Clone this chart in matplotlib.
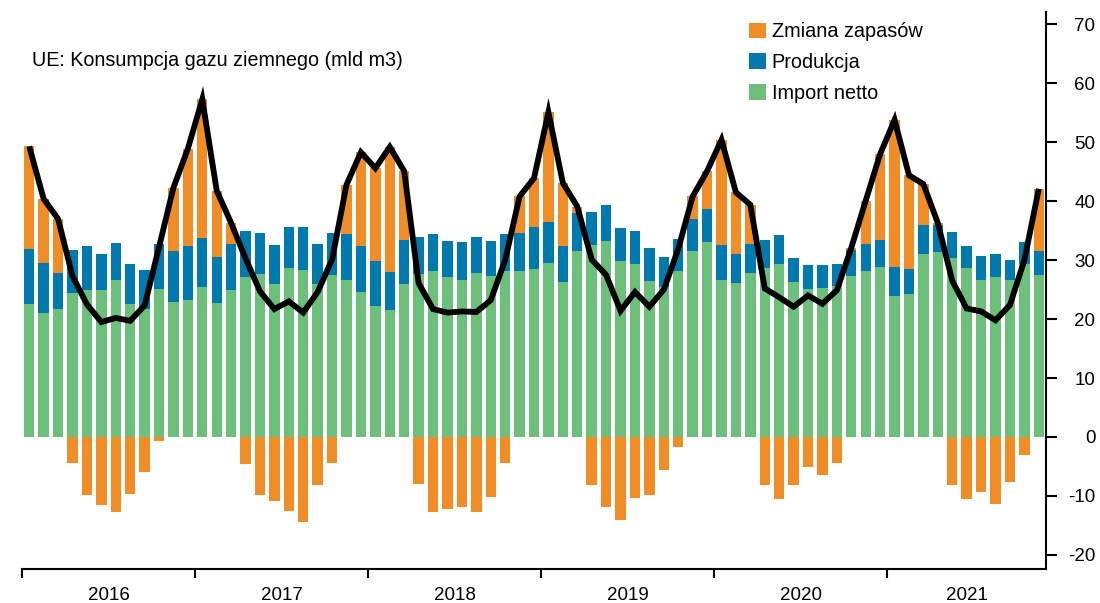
import numpy as np
import matplotlib
matplotlib.use("Agg")
import matplotlib.pyplot as plt
from matplotlib.patches import Patch

plt.rcParams['font.family'] = ['Liberation Sans', 'DejaVu Sans']

# Monthly data, Jan 2016 - Nov 2021 (bcm)
years = ['2016', '2017', '2018', '2019', '2020', '2021']

import_netto = [
    22.5, 21.0, 21.7, 24.4, 24.9, 25.0, 26.6, 22.6, 21.7, 25.1, 22.9, 23.2,
    25.4, 22.8, 24.9, 27.2, 27.7, 26.0, 28.7, 28.4, 26.0, 27.5, 26.7, 24.6,
    22.3, 21.5, 26.0, 27.7, 28.2, 27.2, 26.7, 27.8, 27.3, 28.2, 28.1, 28.5,
    29.5, 26.3, 31.5, 32.5, 33.3, 29.8, 29.3, 26.4, 25.5, 28.1, 31.6, 33.0,
    26.7, 26.1, 27.8, 28.6, 29.3, 26.3, 25.1, 25.3, 25.6, 27.3, 28.2, 28.8,
    23.9, 24.3, 31.1, 31.4, 30.3, 28.6, 26.7, 27.1, 26.6, 29.4, 27.5,
]

produkcja = [
    9.4, 8.5, 6.2, 7.4, 7.5, 6.1, 6.3, 6.7, 6.6, 7.7, 8.6, 9.2,
    8.4, 7.7, 7.8, 7.7, 6.9, 6.5, 6.9, 7.2, 6.7, 7.1, 7.7, 7.8,
    7.6, 6.5, 7.5, 6.3, 6.3, 6.1, 6.4, 6.2, 6.0, 6.2, 6.5, 7.1,
    6.9, 6.1, 6.5, 5.7, 6.1, 5.7, 5.6, 5.6, 5.1, 5.5, 5.4, 5.6,
    5.8, 5.0, 4.9, 4.8, 5.0, 4.0, 4.0, 3.8, 3.7, 4.5, 4.6, 4.7,
    5.0, 4.2, 4.8, 4.6, 4.4, 3.8, 4.0, 4.0, 3.5, 3.6, 4.0,
]

zmiana_zapasow = [
    17.4, 10.9, 9.1, -4.5, -9.9, -11.6, -12.7, -9.6, -6.0, -0.6, 10.8, 16.5,
    23.5, 11.3, 3.6, -4.6, -9.9, -10.8, -12.6, -14.5, -8.1, -4.5, 8.4, 15.9,
    15.7, 21.2, 11.6, -7.9, -12.8, -12.2, -11.8, -12.8, -10.1, -4.4, 6.2, 8.3,
    18.7, 10.7, 1.1, -8.1, -11.9, -14.1, -10.3, -9.9, -5.6, -1.7, 3.8, 6.5,
    17.9, 10.4, 6.7, -8.2, -10.6, -8.2, -5.1, -6.5, -4.4, 0.3, 7.3, 14.5,
    24.9, 15.9, 7.0, 0.3, -8.2, -10.6, -9.4, -11.3, -7.7, -3.0, 10.6,
]

konsumpcja = [
    49.3, 40.4, 37.0, 27.3, 22.5, 19.5, 20.2, 19.7, 22.3, 32.2, 42.3, 48.9,
    57.3, 41.8, 36.3, 30.3, 24.7, 21.7, 23.0, 21.1, 24.6, 30.1, 42.8, 48.3,
    45.6, 49.2, 45.1, 26.1, 21.7, 21.1, 21.3, 21.2, 23.2, 30.0, 40.8, 43.9,
    55.1, 43.1, 39.1, 30.1, 27.5, 21.4, 24.6, 22.1, 25.0, 31.9, 40.8, 45.1,
    50.4, 41.5, 39.4, 25.2, 23.7, 22.1, 24.0, 22.6, 24.9, 32.1, 40.1, 48.0,
    53.8, 44.4, 42.9, 36.3, 26.5, 21.8, 21.3, 19.8, 22.4, 30.0, 42.1,
]

title = 'UE: Konsumpcja gazu ziemnego (mld m3)'
labels = ['Zmiana zapasów', 'Produkcja', 'Import netto']
yticks = [-20, -10, 0, 10, 20, 30, 40, 50, 60, 70]

c_orange = '#F08D26'
c_blue = '#007AAE'
c_green = '#6DC07B'

imp = np.array(import_netto)
prod = np.array(produkcja)
st = np.array(zmiana_zapasow)
n = len(imp)
x = np.arange(n)

fig = plt.figure(figsize=(11.0, 6.03), dpi=100)
ax = fig.add_axes([22 / 1100, 34 / 603, 1024 / 1100, 557 / 603])

w = 0.72
ax.bar(x, imp, width=w, color=c_green, linewidth=0, zorder=2)
ax.bar(x, prod, width=w, bottom=imp, color=c_blue, linewidth=0, zorder=2)
st_bottom = np.where(st > 0, imp + prod, 0.0)
ax.bar(x, st, width=w, bottom=st_bottom, color=c_orange, linewidth=0, zorder=2)
ax.plot(x, konsumpcja, color='black', linewidth=4.2, zorder=3,
        solid_joinstyle='miter', solid_capstyle='butt')

ax.set_xlim(-0.5, n - 0.5)
ax.set_ylim(-22.4, 72.1)

# spines
for s in ['left', 'top']:
    ax.spines[s].set_visible(False)
ax.spines['right'].set_linewidth(1.5)
ax.spines['bottom'].set_linewidth(1.5)

# y axis on right
ax.yaxis.tick_right()
ax.set_yticks(yticks)
ax.set_yticklabels([str(v) for v in yticks], fontsize=13.5)
for lab in ax.get_yticklabels():
    lab.set_horizontalalignment('right')
ax.tick_params(axis='y', which='major', direction='out', length=8, width=1.5, pad=27.5)

# x axis: year boundaries as major ticks, labels at year centers
year_idx = np.arange(n) // 12
bounds = [i * 12 - 0.5 for i in range(len(years))]
ax.set_xticks(bounds)
ax.set_xticklabels([''] * len(bounds))
centers = [x[year_idx == i].mean() for i in range(len(years))]
ax.set_xticks(centers, minor=True)
ax.set_xticklabels(years, minor=True, fontsize=13.5)
ax.tick_params(axis='x', which='major', direction='out', length=6.5, width=1.5)
ax.tick_params(axis='x', which='minor', length=0, pad=13)

fig.text(32 / 1100, 1 - 60 / 603, title, fontsize=14.2, va='center', ha='left')

handles = [Patch(facecolor=c_orange), Patch(facecolor=c_blue), Patch(facecolor=c_green)]
ax.legend(handles, labels, loc='upper left', bbox_to_anchor=(749 / 1100, 1 - 22 / 603),
          bbox_transform=fig.transFigure, frameon=False, fontsize=14.3,
          handlelength=0.85, handleheight=0.8, handletextpad=0.3,
          labelspacing=0.6, borderpad=0, borderaxespad=0)

fig.savefig('out.png', dpi=100)
